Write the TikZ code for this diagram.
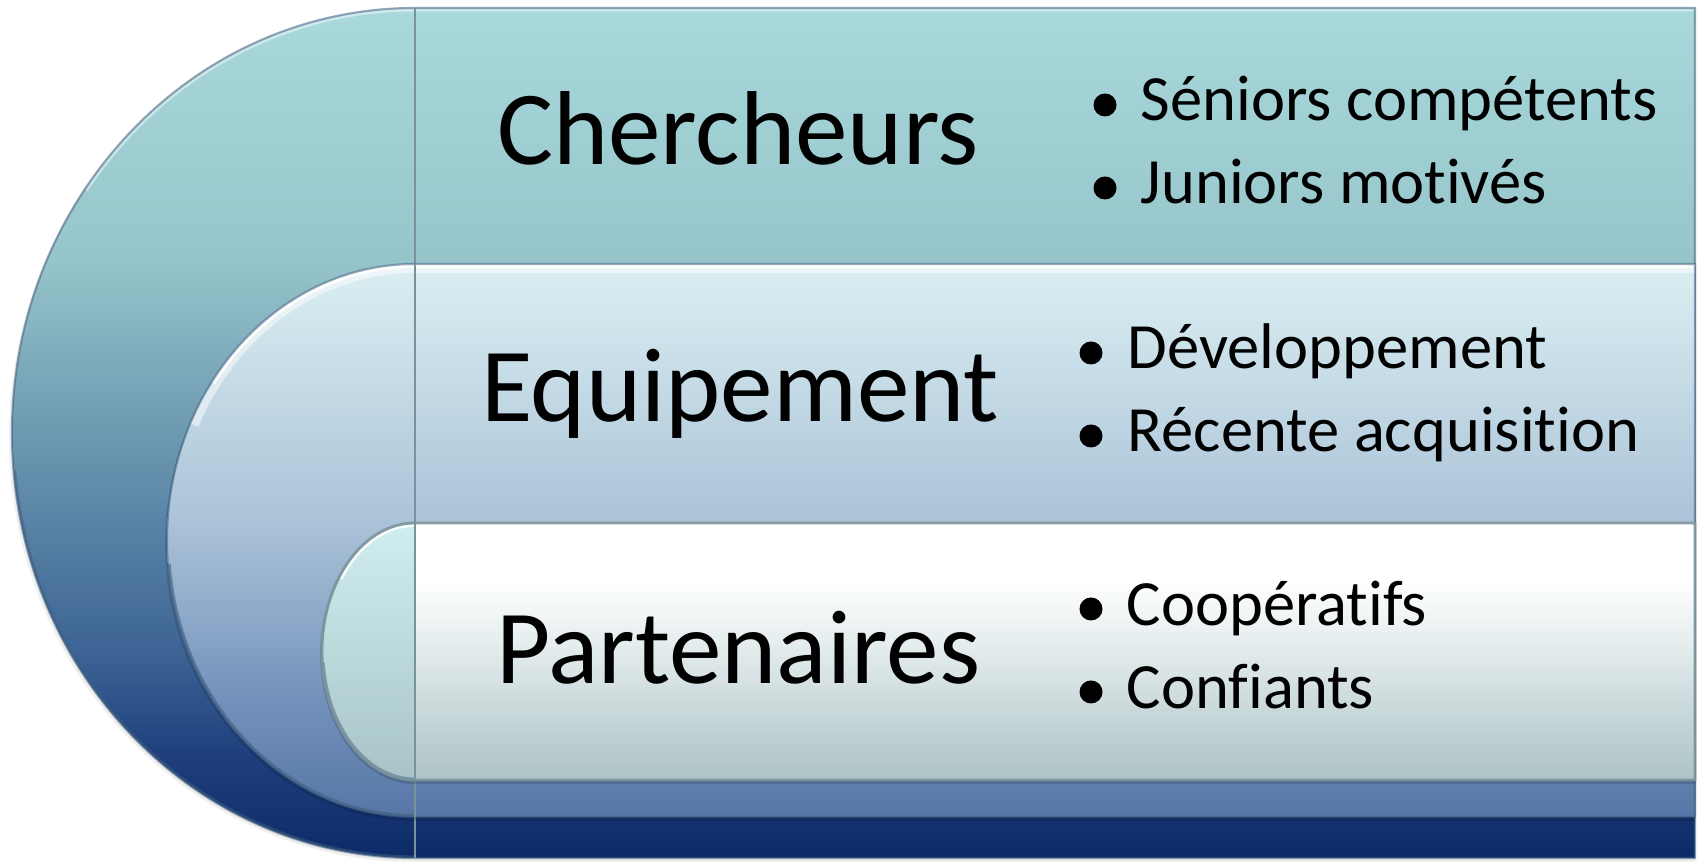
\documentclass[tikz,border=0pt]{standalone}
\usepackage{fontspec}
\setmainfont{Carlito}[Ligatures={NoCommon}]
\definecolor{o1}{HTML}{AAD9DC}
\definecolor{o2}{HTML}{95C4CA}
\definecolor{o3}{HTML}{6D99B1}
\definecolor{o4}{HTML}{3C6394}
\definecolor{o5}{HTML}{1E3F7C}
\definecolor{o6}{HTML}{0D2A68}
\definecolor{m1}{HTML}{DBEFF2}
\definecolor{m2}{HTML}{ABC3D8}
\definecolor{m3}{HTML}{7391BB}
\definecolor{m4}{HTML}{5676A6}
\definecolor{i1}{HTML}{D0EEF0}
\definecolor{i2}{HTML}{A7C3C7}
\definecolor{w1}{HTML}{FFFFFF}
\definecolor{w2}{HTML}{E2EBEC}
\definecolor{w3}{HTML}{ADC2C5}
\definecolor{edgegray}{HTML}{7A929A}
\definecolor{rimdark}{HTML}{3F5F80}
\pgfdeclareverticalshading{outershade}{100bp}{color(0bp)=(o6); color(25bp)=(o6); color(31bp)=(o5); color(37bp)=(o4); color(50bp)=(o3); color(60bp)=(o2); color(75bp)=(o1); color(100bp)=(o1)}
\pgfdeclareverticalshading{middleshade}{100bp}{color(0bp)=(m4); color(25bp)=(m4); color(35.6bp)=(m3); color(51.7bp)=(m2); color(75bp)=(m1); color(100bp)=(m1)}
\pgfdeclareverticalshading{innershade}{100bp}{color(0bp)=(i2); color(25bp)=(i2); color(75bp)=(i1); color(100bp)=(i1)}
\pgfdeclareverticalshading{whiteshade}{100bp}{color(0bp)=(w3); color(25bp)=(w3); color(50.2bp)=(w2); color(63.8bp)=(w1); color(75bp)=(w1); color(100bp)=(w1)}
\tikzset{
  capsule/.style n args={4}{insert path={(415,#1) -- (1695,#1) -- (1695,#2) -- (415,#2)
      arc[start angle=90,end angle=270,x radius=#3,y radius=#4] -- cycle}},
  title/.style={font=\fontsize{29.9pt}{36pt}\selectfont, text=black, inner sep=0pt, anchor=base},
  item/.style={font=\fontsize{18.35pt}{22pt}\selectfont, text=black, inner sep=0pt, anchor=base west},
  dot/.style={circle, fill=black, inner sep=0pt, minimum size=0.23cm},
  outline/.style={draw=rimdark, draw opacity=0.55, line width=0.6pt},
}
\begin{document}
\begin{tikzpicture}[x=0.01cm,y=-0.01cm]
\useasboundingbox (0,0) rectangle (1702,862);
\fill[white] (0,0) rectangle (1702,862);
% soft shadow of outer shape
\fill[black, opacity=0.06] [capsule={12}{862}{406}{425}];
\fill[black, opacity=0.06] [capsule={10}{860}{404}{425}];
% outer shape
\path[shading=outershade] [capsule={8}{858}{403}{425}];
\begin{scope}
  \clip [capsule={8}{858}{403}{425}];
  \draw[white, opacity=0.45, line width=2pt] (1695,8) -- (415,8) arc[start angle=270,end angle=215,x radius=403,y radius=425];
  \draw[rimdark, opacity=0.5, line width=1.5pt] (415,858) arc[start angle=90,end angle=175,x radius=403,y radius=425];
\end{scope}
\path[outline] [capsule={8}{858}{403}{425}];
\draw[edgegray, line width=0.75pt] (415,8) -- (415,858);
% middle shape
\fill[black, opacity=0.12] [capsule={266}{821}{250}{277.5}];
\path[shading=middleshade] [capsule={264}{817}{248}{276.5}];
\begin{scope}
  \clip [capsule={264}{817}{248}{276.5}];
  \draw[white, opacity=0.5, line width=5pt] (1695,264) -- (415,264) arc[start angle=270,end angle=205,x radius=248,y radius=276.5];
  \draw[white, opacity=0.9, line width=2.2pt] (1695,264) -- (415,264) arc[start angle=270,end angle=215,x radius=248,y radius=276.5];
  \draw[rimdark, opacity=0.6, line width=1.6pt] (415,817) arc[start angle=90,end angle=175,x radius=248,y radius=276.5];
\end{scope}
\path[outline] [capsule={264}{817}{248}{276.5}];
\draw[edgegray, line width=0.75pt] (415,264) -- (415,817);
% inner shape
\fill[black, opacity=0.14] [capsule={525}{784}{95}{129.5}];
\path[shading=innershade] [capsule={523}{780}{93}{128.5}];
\path[shading=whiteshade] (415,523) rectangle (1695,780);
\begin{scope}
  \clip [capsule={523}{780}{93}{128.5}];
  \draw[white, opacity=0.9, line width=2.2pt] (415,523) arc[start angle=270,end angle=215,x radius=93,y radius=128.5];
  \draw[rimdark, opacity=0.45, line width=1.4pt] (415,780) arc[start angle=90,end angle=175,x radius=93,y radius=128.5];
\end{scope}
\path[outline, draw=edgegray, draw opacity=0.9, line width=0.8pt] [capsule={523}{780}{93}{128.5}];
\draw[edgegray, line width=0.75pt] (415,523) -- (415,780);
% titles
\node[title] (t1) at (738,165) {Chercheurs};
\node[title] (t2) at (740,422) {Equipement};
\node[title] (t3) at (738,684) {Partenaires};
% bullets band 1
\node[dot] (d11) at (1105,105) {};
\node[item] (b11) at (1140,121) {Séniors compétents};
\node[dot] (d12) at (1105,188) {};
\node[item] (b12) at (1140,204) {Juniors motivés};
% bullets band 2
\node[dot] (d21) at (1091,353) {};
\node[item] (b21) at (1127,369) {Développement};
\node[dot] (d22) at (1091,436) {};
\node[item] (b22) at (1127,452) {Récente acquisition};
% bullets band 3
\node[dot] (d31) at (1091,609) {};
\node[item] (b31) at (1126,626) {Coopératifs};
\node[dot] (d32) at (1091,692) {};
\node[item] (b32) at (1126,709) {Confiants};
\end{tikzpicture}
\end{document}
